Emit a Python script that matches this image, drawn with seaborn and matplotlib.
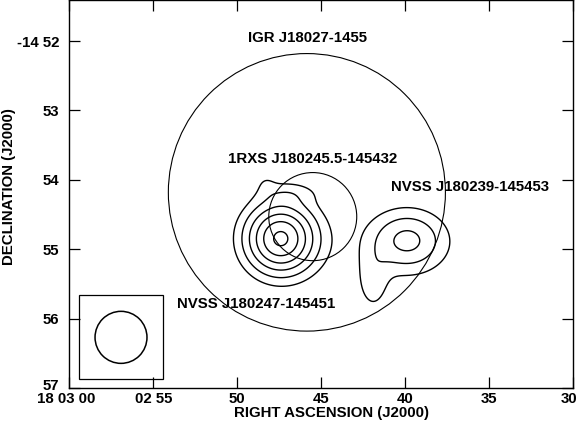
import numpy as np
import matplotlib
matplotlib.use("Agg")
import matplotlib.pyplot as plt
from matplotlib.patches import Ellipse, Rectangle
from matplotlib.transforms import ScaledTranslation
import seaborn as sns

# RA in seconds past 18h02m, Dec in arcmin below -14 deg
ra_ticks = [60, 55, 50, 45, 40, 35, 30]
ra_labels = ["18 03 00", "02 55", "50", "45", "40", "35", "30"]
dec_ticks = [52, 53, 54, 55, 56, 57]
dec_labels = ["-14 52", "53", "54", "55", "56", "57"]

# error circles (centre RA s, centre Dec arcmin, radius arcmin)
circle_names = ["IGR J18027-1455", "1RXS J180245.5-145432"]
circle_ra = [45.85, 45.50]
circle_dec = [54.18, 54.53]
circle_rad = [2.00, 0.635]

radio_names = ["NVSS J180239-145453", "NVSS J180247-145451"]

# radio field: gaussian components
# J180247 core, its northern extension and knot, J180239 core, its halo and tail
comp_ra = [47.42, 46.86, 48.29, 39.87, 40.20, 41.92]
comp_dec = [54.847, 54.179, 54.035, 54.872, 54.987, 55.478]
comp_peak = [1.00, 0.12, 0.08, 0.40, 0.09, 0.16]
comp_sx = [0.346, 0.317, 0.101, 0.346, 0.866, 0.159]   # arcmin
comp_sy = [0.346, 0.115, 0.101, 0.274, 0.606, 0.317]
levels = [0.147, 0.276, 0.434, 0.607, 0.789, 0.969]

# synthesized beam (45 arcsec)
beam_ra, beam_dec, beam_fwhm = 56.92, 56.27, 0.75

K = 0.2424  # arcmin of sky per second of RA at this declination

sns.set_style("ticks")
plt.rcParams["font.family"] = ["Liberation Sans", "DejaVu Sans"]
plt.rcParams["font.weight"] = "bold"
for key in ["text.color", "axes.labelcolor", "xtick.color", "ytick.color"]:
    plt.rcParams[key] = "black"

fig = plt.figure(figsize=(5.77, 4.24), dpi=100)
ax = fig.add_axes([69.3 / 577, 36 / 424, 503.7 / 577, 388 / 424])

ra = np.linspace(30, 60, 700)
dec = np.linspace(51.3, 57.1, 600)
RA, DEC = np.meshgrid(ra, dec)
field = np.zeros_like(RA)
for r0, d0, p, sx, sy in zip(comp_ra, comp_dec, comp_peak, comp_sx, comp_sy):
    dx = (RA - r0) * K
    dy = DEC - d0
    field += p * np.exp(-0.5 * ((dx / sx) ** 2 + (dy / sy) ** 2))

ax.contour(RA, DEC, field, levels=levels, colors="black", linewidths=1.0)

for r0, d0, rad in zip(circle_ra, circle_dec, circle_rad):
    ax.add_patch(Ellipse((r0, d0), 2 * rad / K, 2 * rad, fill=False,
                         edgecolor="black", linewidth=0.8))

# beam box in the corner
ax.add_patch(Rectangle((59.40, 55.665), -4.96, 1.202, fill=False,
                       edgecolor="black", linewidth=0.9))
ax.add_patch(Ellipse((beam_ra, beam_dec), beam_fwhm / K, beam_fwhm, fill=False,
                     edgecolor="black", linewidth=1.1))

fs = 10.8
ax.text(45.82, 51.957, circle_names[0], ha="center", va="center", fontsize=fs)
ax.text(45.49, 53.693, circle_names[1], ha="center", va="center", fontsize=fs)
ax.text(36.15, 54.102, radio_names[0], ha="center", va="center", fontsize=fs)
ax.text(48.85, 55.785, radio_names[1], ha="center", va="center", fontsize=fs)

ax.set_xlim(60, 30)
ax.set_ylim(57, 51.408)
ax.set_xticks(ra_ticks)
ax.set_xticklabels(ra_labels)
ax.set_yticks(dec_ticks)
ax.set_yticklabels(dec_labels)
ax.tick_params(direction="in", length=8, width=0.9, top=True, right=True,
               labelsize=fs)
ax.tick_params(axis="x", pad=3)
ax.tick_params(axis="y", pad=7)
for s in ax.spines.values():
    s.set_linewidth(1.0)
    s.set_color("black")

# nudge the corner labels like the original
xl = ax.get_xticklabels()
for lab in (xl[0], xl[-1]):
    lab.set_transform(lab.get_transform() + ScaledTranslation(-0.035, 0, fig.dpi_scale_trans))
yl = ax.get_yticklabels()[-1]
yl.set_transform(yl.get_transform() + ScaledTranslation(0, 0.03, fig.dpi_scale_trans))

ax.set_xlabel("RIGHT ASCENSION (J2000)", fontsize=fs, fontweight="bold")
ax.set_ylabel("DECLINATION (J2000)", fontsize=fs, fontweight="bold")
ax.xaxis.set_label_coords(0.5215, -0.046)
ax.yaxis.set_label_coords(-0.1058, 0.518)

fig.savefig("out.png", dpi=100)
